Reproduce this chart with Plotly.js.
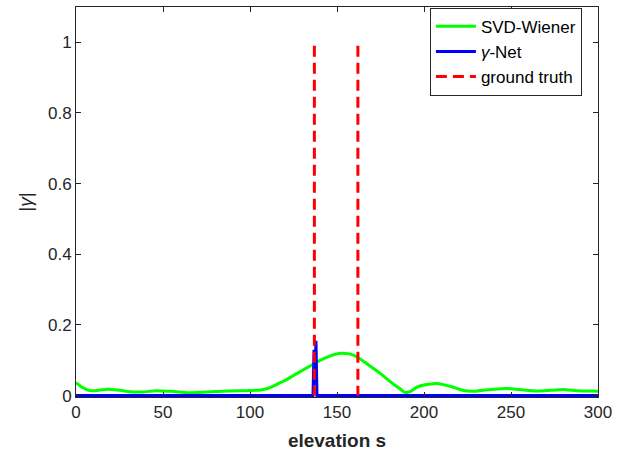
<!DOCTYPE html>
<html>
<head>
<meta charset="utf-8">
<script src="https://cdn.plot.ly/plotly-3.0.1.min.js"></script>
<style>
  html, body { margin: 0; padding: 0; background: #fff; }
  #chart { width: 631px; height: 458px; }
</style>
</head>
<body>
<div id="chart"></div>
<script>
// SVD-Wiener reflectivity profile |gamma| along elevation
const wienerS = [0, 1, 3, 8, 13, 18, 24, 31, 38, 46, 55, 65, 75, 87, 98, 106, 110, 114, 117, 121, 125, 130, 135, 140, 145, 149, 153, 157, 161, 165, 170, 175, 179, 182, 186, 189, 192, 196, 200, 204, 207, 211, 216, 222, 228, 235, 242, 248, 255, 265, 273, 280, 288, 295, 300];
const wienerAmp = [0.036, 0.033, 0.025, 0.014, 0.015, 0.018, 0.016, 0.011, 0.010, 0.014, 0.012, 0.008, 0.010, 0.013, 0.014, 0.016, 0.020, 0.028, 0.036, 0.045, 0.057, 0.071, 0.085, 0.099, 0.110, 0.117, 0.120, 0.118, 0.111, 0.098, 0.080, 0.062, 0.046, 0.034, 0.020, 0.009, 0.011, 0.024, 0.030, 0.033, 0.034, 0.031, 0.025, 0.015, 0.012, 0.016, 0.019, 0.020, 0.017, 0.013, 0.015, 0.017, 0.014, 0.013, 0.012];

// gamma-Net estimate: zero except a sharp double spike
const netS = [0, 136.2, 136.8, 137.3, 137.9, 138.5, 300];
const netAmp = [0, 0, 0.13, 0.03, 0.155, 0, 0];

// ground-truth scatterer elevations and amplitudes
const truthS = [137, 162];
const truthAmp = [0.99, 0.99];

// stems for the ground-truth scatterers, separated by gaps
const stemX = [], stemY = [];
truthS.forEach((s, i) => {
  stemX.push(s, s, null);
  stemY.push(truthAmp[i], 0, null);
});

const axisColor = '#262626';
const font = 'Liberation Sans, Arial, Helvetica, sans-serif';

const traces = [
  {
    x: wienerS, y: wienerAmp, name: 'SVD-Wiener', type: 'scatter', mode: 'lines',
    line: { color: '#00ff00', width: 3, shape: 'spline', smoothing: 0.8 }
  },
  {
    x: netS, y: netAmp, name: '<i>γ</i>-Net', type: 'scatter', mode: 'lines',
    line: { color: '#0000ff', width: 3 }
  },
  {
    x: stemX, y: stemY, name: 'ground truth', type: 'scatter', mode: 'lines',
    line: { color: '#ff0000', width: 3, dash: '11px,6px' }
  }
];

const layout = {
  width: 631, height: 458,
  margin: { l: 76, r: 33, t: 7, b: 61 },
  paper_bgcolor: '#fff', plot_bgcolor: '#fff',
  font: { family: font, size: 17, color: axisColor },
  showlegend: true,
  legend: {
    x: 0.678, y: 0.998, xanchor: 'left', yanchor: 'top',
    bgcolor: '#fff', bordercolor: axisColor, borderwidth: 1,
    font: { family: font, size: 17, color: '#000' },
    itemwidth: 40,
    tracegroupgap: 0
  },
  xaxis: {
    range: [0, 300], dtick: 50, tick0: 0,
    showgrid: false, zeroline: false,
    showline: true, linecolor: axisColor, linewidth: 1, mirror: 'ticks',
    ticks: 'inside', ticklen: 5, tickcolor: axisColor,
    tickfont: { family: font, size: 17, color: axisColor },
    title: { text: '<b>elevation s</b>', font: { family: font, size: 19, color: axisColor }, standoff: 12 }
  },
  yaxis: {
    range: [-0.004, 1.1], dtick: 0.2, tick0: 0,
    showgrid: false, zeroline: false,
    showline: true, linecolor: axisColor, linewidth: 1, mirror: 'ticks',
    ticks: 'inside', ticklen: 5, tickcolor: axisColor,
    tickfont: { family: font, size: 17, color: axisColor },
    title: { text: '|<i>γ</i>|', font: { family: font, size: 19, color: axisColor }, standoff: 10 }
  }
};

Plotly.newPlot('chart', traces, layout, { displayModeBar: false, staticPlot: true });
</script>
</body>
</html>
